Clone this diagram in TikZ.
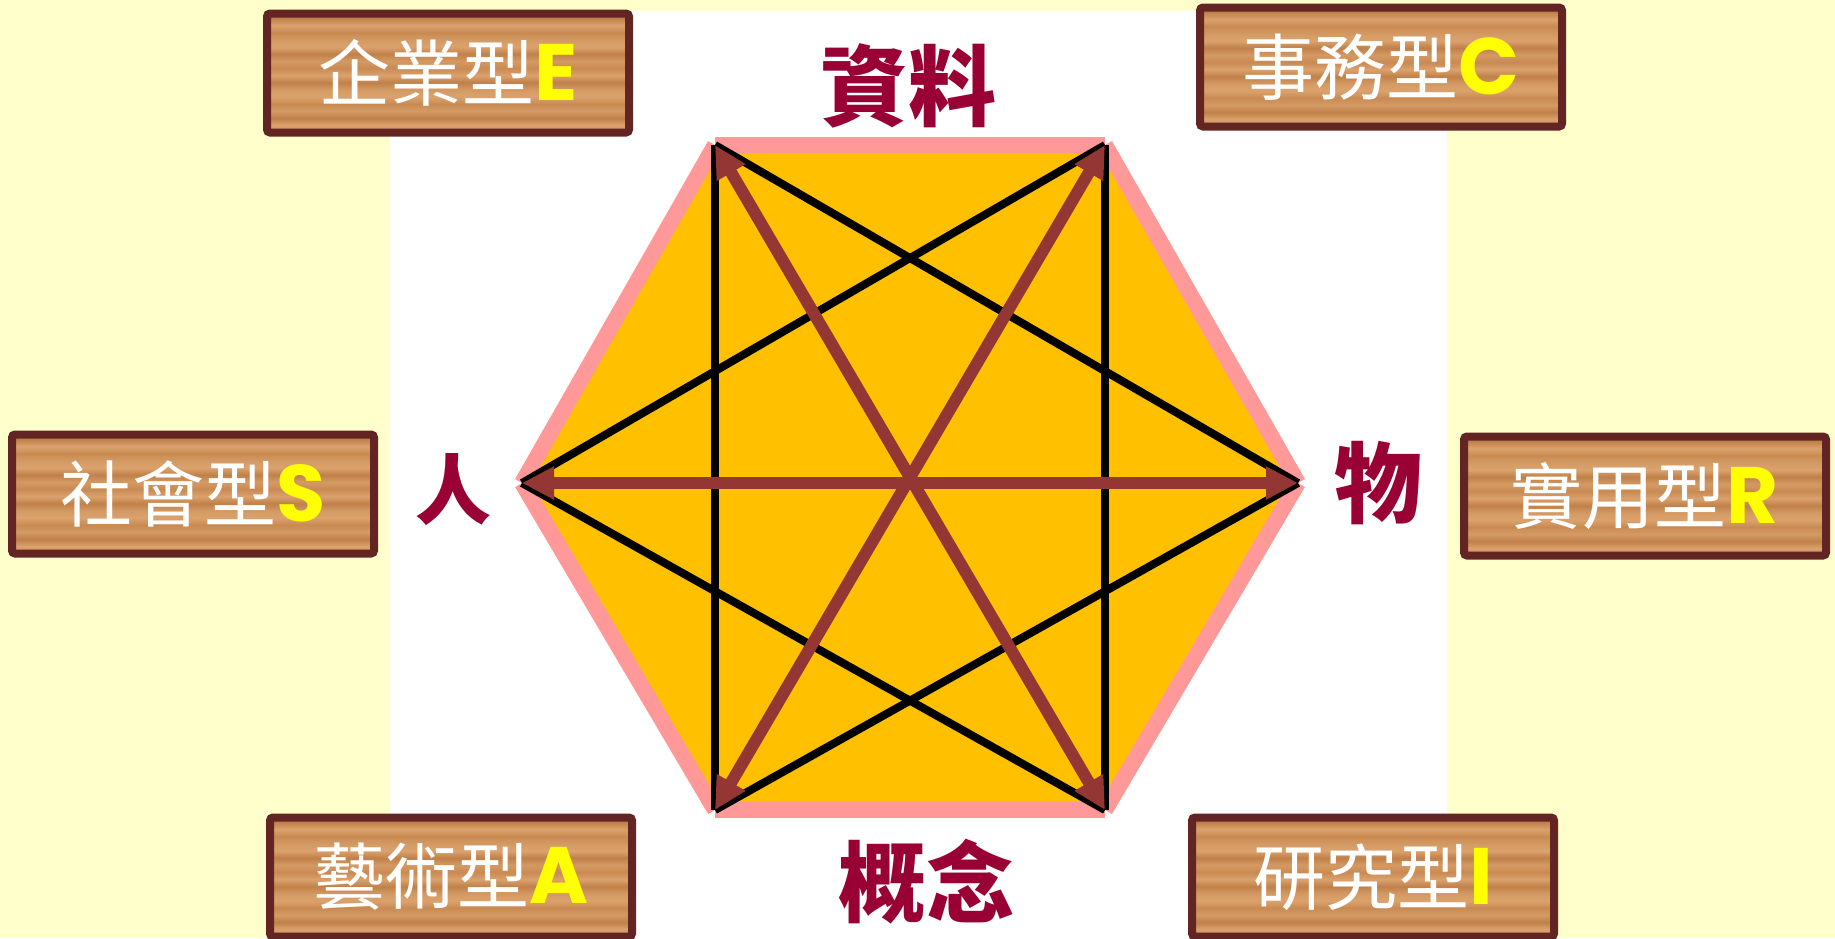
\documentclass[tikz,border=0pt]{standalone}
\usepackage{fontspec}
\usetikzlibrary{arrows.meta}
\newfontfamily\cjk{Noto Sans CJK TC}
\newfontfamily\latfont{Poppins}
\definecolor{bgyellow}{HTML}{FFFFCC}
\definecolor{hexfill}{HTML}{FFC000}
\definecolor{hexedge}{HTML}{FF9999}
\definecolor{arrowbrown}{HTML}{943634}
\definecolor{labelred}{HTML}{990033}
\definecolor{boxborder}{HTML}{632523}
\definecolor{letteryellow}{HTML}{FFFF00}
\definecolor{woodA}{HTML}{C98A52}
\definecolor{woodB}{HTML}{DBA26D}
\definecolor{woodC}{HTML}{C08049}
\definecolor{woodD}{HTML}{D49A64}
\pgfdeclareverticalshading{woodgrain}{100bp}{%
  color(0bp)=(woodA); color(25bp)=(woodA); color(28bp)=(woodB); color(31bp)=(woodC);
  color(34bp)=(woodD); color(37bp)=(woodA); color(40bp)=(woodB); color(43bp)=(woodD);
  color(46bp)=(woodC); color(49bp)=(woodB); color(52bp)=(woodA); color(55bp)=(woodD);
  color(58bp)=(woodC); color(61bp)=(woodB); color(64bp)=(woodD); color(67bp)=(woodA);
  color(70bp)=(woodB); color(73bp)=(woodC); color(75bp)=(woodA); color(100bp)=(woodA)}
\tikzset{
  typebox/.style={draw=boxborder, line width=8pt, rounded corners=3pt,
    minimum width=362pt, minimum height=119pt, inner sep=0pt, shading=woodgrain},
  poslabel/.style={text=labelred, inner sep=0pt,
    font=\cjk\bfseries\fontsize{88}{88}\selectfont},
  hexside/.style={draw=hexedge, line width=16pt, line cap=butt},
  blackline/.style={draw=black, line width=8pt},
  brownarrow/.style={draw=arrowbrown, line width=12pt,
    {Triangle[length=32pt,width=31pt]}-{Triangle[length=32pt,width=31pt]}}
}
\newcommand{\typetext}[2]{{\cjk\fontsize{72}{72}\selectfont\color{white}#1}{\latfont\bfseries\fontsize{80}{80}\selectfont\color{letteryellow}#2}}
\begin{document}
\begin{tikzpicture}[x=1pt,y=-1pt]
\useasboundingbox (0,0) rectangle (1835,938);
\fill[bgyellow] (0,0) rectangle (1835,938);
\fill[white] (390,11) rectangle (1447,938);
% hexagon vertices
\coordinate (TL) at (715,145);
\coordinate (TR) at (1105,145);
\coordinate (R) at (1298,483);
\coordinate (BR) at (1105,810);
\coordinate (BL) at (715,810);
\coordinate (L) at (522,483);
\fill[hexfill] (TL) -- (TR) -- (R) -- (BR) -- (BL) -- (L) -- cycle;
\draw[hexside] (TL) -- (TR);
\draw[hexside] (TR) -- (R);
\draw[hexside] (R) -- (BR);
\draw[hexside] (BR) -- (BL);
\draw[hexside] (BL) -- (L);
\draw[hexside] (L) -- (TL);
% black connectors
\draw[blackline] (TL) -- (BL);
\draw[blackline] (TR) -- (BR);
\draw[blackline] (L) -- (TR);
\draw[blackline] (L) -- (BR);
\draw[blackline] (R) -- (TL);
\draw[blackline] (R) -- (BL);
% brown double arrows
\draw[brownarrow] (L) -- (R);
\draw[brownarrow] (TL) -- (BR);
\draw[brownarrow] (TR) -- (BL);
% labels
\node[poslabel] (data) at (908,86) {資料};
\node[poslabel] (idea) at (926,882) {概念};
\node[poslabel, font=\cjk\bfseries\fontsize{76}{76}\selectfont] (people) at (453,490) {人};
\node[poslabel] (things) at (1378,483) {物};
% type boxes
\node[typebox] (E) at (448,73) {\typetext{企業型}{E}};
\node[typebox] (C) at (1381,67) {\typetext{事務型}{C}};
\node[typebox] (S) at (193,494) {\typetext{社會型}{S}};
\node[typebox] (Rt) at (1645,496) {\typetext{實用型}{R}};
\node[typebox] (A) at (451,877) {\typetext{藝術型}{A}};
\node[typebox] (I) at (1373,877) {\typetext{研究型}{I}};
\end{tikzpicture}
\end{document}
